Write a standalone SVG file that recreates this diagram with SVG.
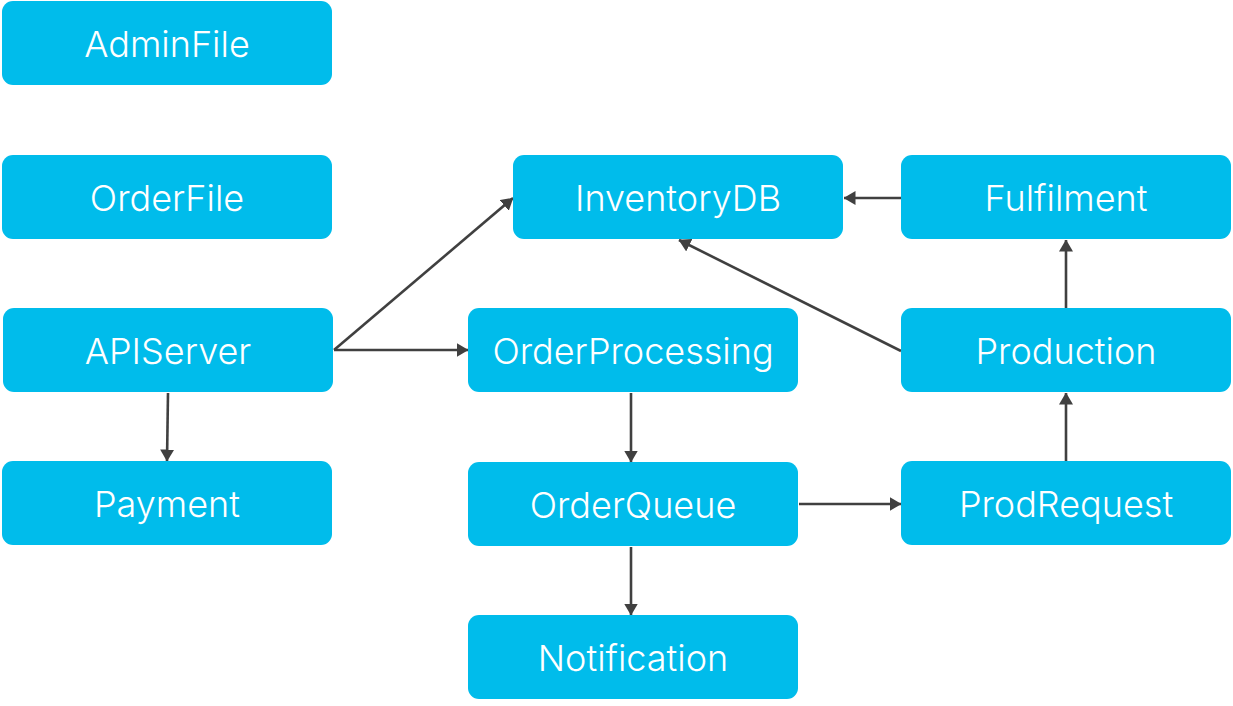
<svg xmlns="http://www.w3.org/2000/svg" width="1233" height="706" viewBox="0 0 1233 706">
<defs>
<style>
.n rect{fill:#00bceb;}
.n text{fill:#ffffff;font-family:Inter,"Open Sans","Liberation Sans",sans-serif;font-weight:300;font-size:36px;text-anchor:middle;dominant-baseline:central;}
.e line{stroke:#404040;stroke-width:2.6;fill:none;marker-end:url(#ah);}
</style>
<marker id="ah" viewBox="0 0 12 14" refX="11.5" refY="7" markerWidth="12" markerHeight="14" markerUnits="userSpaceOnUse" orient="auto">
<path d="M0,0 L12,7 L0,14 z" fill="#404040"/>
</marker>
</defs>
<rect width="1233" height="706" fill="#ffffff"/>
<g id="connectors" class="e">
<line x1="334" y1="350" x2="513" y2="198"/>
<line x1="334" y1="350" x2="468" y2="350"/>
<line x1="168" y1="393" x2="167" y2="461"/>
<line x1="631" y1="393" x2="631" y2="462"/>
<line x1="631" y1="547" x2="631" y2="615"/>
<line x1="799" y1="504" x2="901" y2="504"/>
<line x1="1066" y1="461" x2="1066" y2="393"/>
<line x1="1066" y1="308" x2="1066" y2="240"/>
<line x1="901" y1="198" x2="844" y2="198"/>
<line x1="901" y1="351" x2="679" y2="240"/>
</g>
<g id="AdminFile" class="n"><rect x="2" y="1" width="330" height="84" rx="11"/><text x="167" y="44">AdminFile</text></g>
<g id="OrderFile" class="n"><rect x="2" y="155" width="330" height="84" rx="11"/><text x="167" y="198">OrderFile</text></g>
<g id="APIServer" class="n"><rect x="3" y="308" width="330" height="84" rx="11"/><text x="168" y="351">APIServer</text></g>
<g id="Payment" class="n"><rect x="2" y="461" width="330" height="84" rx="11"/><text x="167" y="504">Payment</text></g>
<g id="InventoryDB" class="n"><rect x="513" y="155" width="330" height="84" rx="11"/><text x="678" y="198">InventoryDB</text></g>
<g id="Fulfilment" class="n"><rect x="901" y="155" width="330" height="84" rx="11"/><text x="1066" y="198">Fulfilment</text></g>
<g id="OrderProcessing" class="n"><rect x="468" y="308" width="330" height="84" rx="11"/><text x="633" y="351">OrderProcessing</text></g>
<g id="Production" class="n"><rect x="901" y="308" width="330" height="84" rx="11"/><text x="1066" y="351">Production</text></g>
<g id="OrderQueue" class="n"><rect x="468" y="462" width="330" height="84" rx="11"/><text x="633" y="505">OrderQueue</text></g>
<g id="ProdRequest" class="n"><rect x="901" y="461" width="330" height="84" rx="11"/><text x="1066" y="504">ProdRequest</text></g>
<g id="Notification" class="n"><rect x="468" y="615" width="330" height="84" rx="11"/><text x="633" y="658">Notification</text></g>
</svg>
